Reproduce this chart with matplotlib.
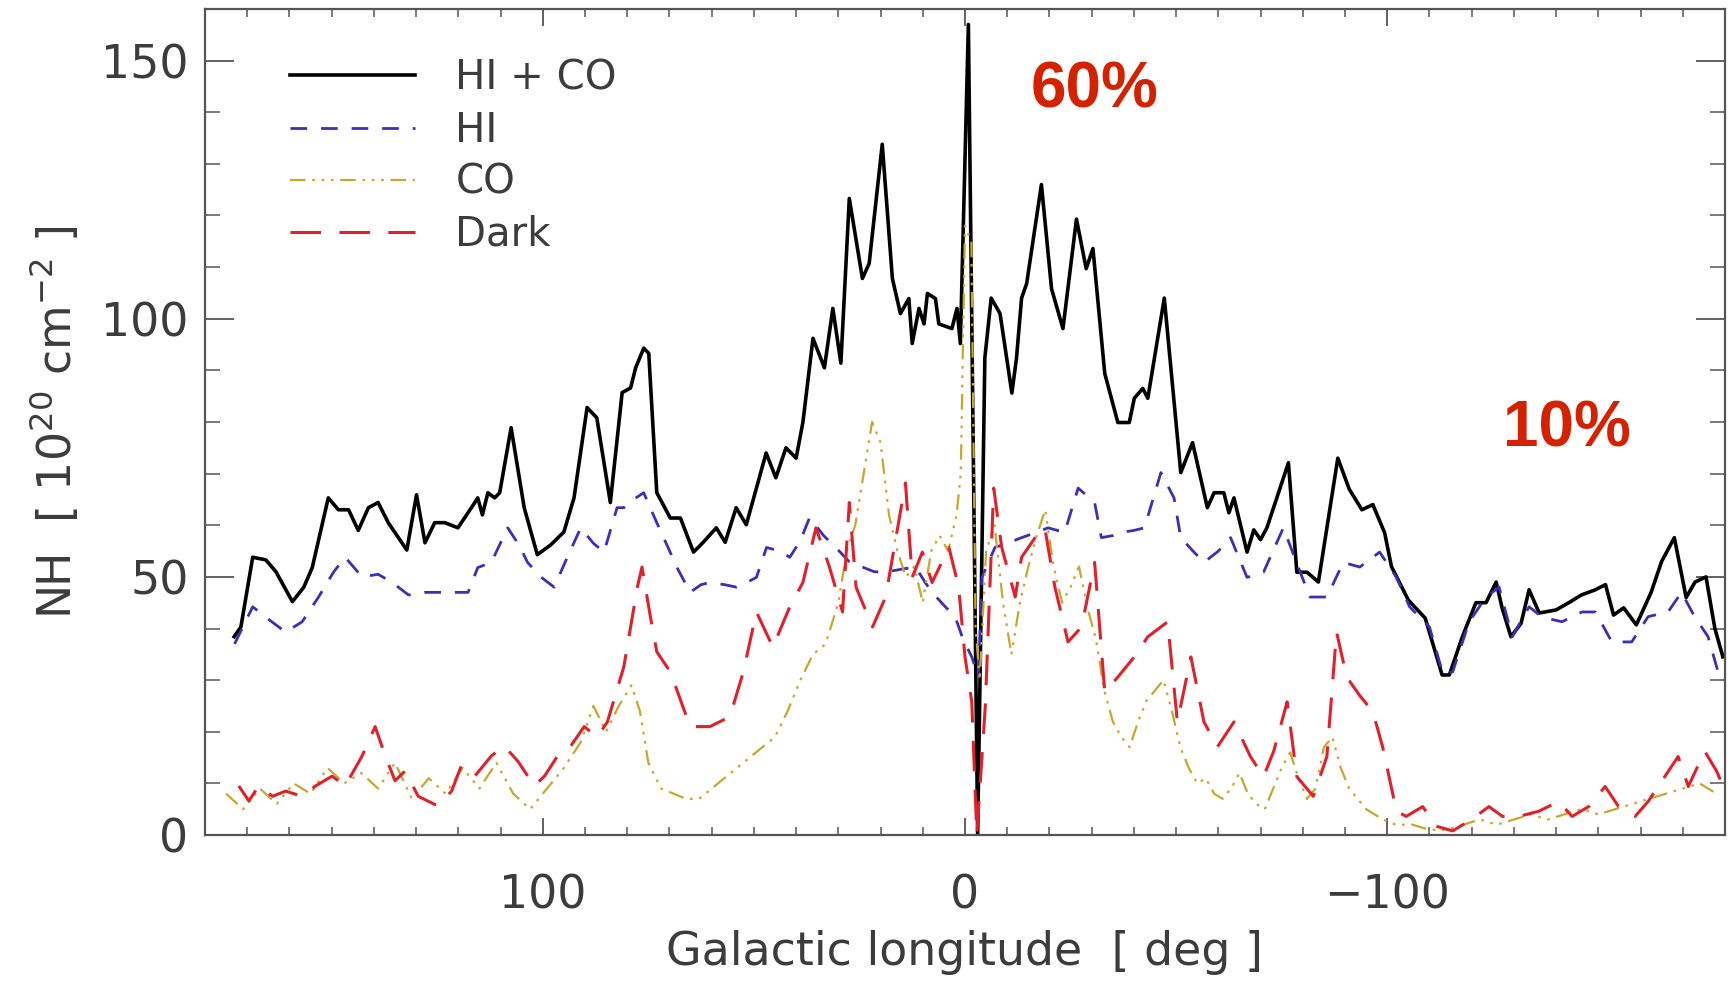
import matplotlib
matplotlib.use("Agg")
import matplotlib.pyplot as plt
from matplotlib.ticker import MultipleLocator

plt.rcParams['font.family'] = ['DejaVu Sans']
plt.rcParams['mathtext.fontset'] = 'dejavusans'

# Column density profiles along the galactic plane (NH in 1e20 cm^-2)
lon_total = [173.1, 171.5, 168.7, 165.6, 163.2, 159.3, 156.6, 154.6, 150.8, 148.4,
             146.0, 143.7, 141.3, 139.0, 136.6, 132.2, 129.9, 127.9, 125.6, 123.2,
             120.1, 116.9, 115.4, 114.3, 113.0, 111.4, 110.2, 107.5, 104.4, 101.3,
             98.1, 95.0, 92.6, 89.5, 87.2, 84.0, 81.2, 79.2, 78.0, 76.1,
             74.9, 73.0, 69.8, 67.4, 64.3, 62.0, 58.9, 56.8, 54.2, 51.8,
             47.1, 44.8, 42.4, 40.0, 38.4, 36.0, 33.3, 31.3, 29.4, 27.4,
             24.3, 22.7, 19.6, 17.2, 15.3, 13.3, 12.5, 10.9, 9.7, 8.9,
             7.0, 6.2, 3.1, 1.9, 1.1, -0.8, -3.0, -4.7, -6.2, -8.3,
             -11.1, -12.2, -13.4, -14.6, -18.1, -20.5, -23.2, -26.4, -28.7, -30.3,
             -33.1, -36.2, -38.9, -40.1, -42.1, -43.3, -47.2, -51.1, -53.9, -57.4,
             -59.0, -61.3, -62.5, -63.7, -66.8, -68.4, -70.0, -71.5, -76.6, -78.6,
             -81.0, -83.7, -88.3, -91.0, -94.0, -96.6, -99.4, -101.0, -105.0, -109.0,
             -113.0, -114.7, -117.8, -121.0, -123.4, -125.8, -127.2, -129.3, -131.7, -133.6,
             -136.0, -140.0, -143.0, -146.0, -149.3, -151.7, -153.6, -156.0, -159.0, -162.5,
             -165.0, -168.0, -170.8, -172.9, -175.5, -177.6, -179.5]
nh_total = [38.4, 40.3, 53.8, 53.3, 51.0, 45.2, 48.0, 51.8, 65.3, 63.0,
            63.0, 59.0, 63.4, 64.4, 60.5, 55.2, 65.9, 56.6, 60.5, 60.5,
            59.5, 63.4, 65.3, 62.0, 66.3, 65.3, 66.3, 78.9, 63.4, 54.3,
            56.2, 58.7, 65.3, 82.8, 80.8, 64.4, 85.7, 86.6, 90.5, 94.3,
            93.3, 66.3, 61.4, 61.4, 54.8, 56.7, 59.5, 56.7, 63.4, 60.1,
            74.0, 69.2, 75.0, 73.0, 79.9, 96.2, 90.5, 102.0, 91.4, 123.3,
            107.8, 110.7, 133.8, 107.8, 101.0, 103.9, 95.2, 102.0, 99.0, 104.9,
            103.9, 99.0, 98.1, 102.0, 95.2, 157.0, 0.0, 92.4, 104.0, 101.0,
            85.6, 92.4, 104.0, 106.8, 126.0, 105.8, 98.1, 119.3, 109.7, 113.6,
            89.4, 79.9, 79.9, 84.6, 86.5, 84.6, 104.0, 70.2, 76.0, 63.4,
            66.3, 66.3, 62.4, 65.3, 54.8, 59.1, 57.2, 59.5, 72.1, 50.9,
            50.9, 49.0, 73.0, 67.0, 63.0, 64.0, 58.5, 52.0, 45.5, 42.0,
            31.0, 31.0, 38.4, 45.0, 45.0, 49.0, 44.0, 38.4, 41.0, 47.5,
            43.0, 43.6, 45.0, 46.5, 47.5, 48.5, 42.6, 44.0, 40.7, 47.0,
            53.0, 57.6, 46.0, 49.0, 50.0, 40.0, 34.5]

lon_hi = [173.0, 168.7, 164.5, 160.9, 157.0, 153.1, 149.5, 146.8, 142.8, 139.0,
          135.8, 131.8, 128.0, 124.8, 121.0, 117.7, 115.4, 112.2, 108.3, 105.5,
          103.6, 100.5, 97.3, 94.2, 91.0, 88.0, 85.5, 82.4, 80.8, 78.5,
          76.1, 73.0, 70.5, 68.2, 65.1, 62.5, 60.4, 57.0, 54.1, 51.5,
          49.4, 47.0, 44.0, 41.5, 39.0, 36.8, 33.5, 30.6, 27.5, 24.3,
          21.5, 18.8, 15.0, 11.7, 9.5, 7.8, 5.0, 2.3, 0.5, -1.6,
          -3.2, -4.0, -7.1, -10.0, -13.4, -16.5, -19.7, -23.6, -26.8, -30.7,
          -32.3, -35.0, -37.0, -40.0, -42.5, -46.4, -49.5, -51.1, -54.0, -56.6,
          -60.0, -62.9, -66.8, -70.7, -75.4, -79.4, -81.7, -85.7, -89.6, -93.5,
          -98.2, -102.2, -105.3, -110.0, -113.2, -115.5, -119.4, -123.4, -126.5, -129.6,
          -133.6, -136.7, -141.4, -146.1, -149.3, -153.2, -157.9, -161.8, -166.5, -169.7,
          -172.8, -176.0, -178.7]
nh_hi = [37.0, 44.2, 41.5, 39.3, 41.3, 46.1, 51.0, 53.8, 50.0, 50.5,
         49.0, 46.5, 47.0, 47.0, 47.0, 47.0, 51.8, 52.8, 59.5, 56.0,
         52.8, 50.0, 48.0, 53.8, 59.5, 56.5, 54.8, 63.4, 63.4, 65.0,
         66.3, 60.5, 56.0, 51.8, 47.0, 48.5, 48.9, 48.5, 48.0, 49.0,
         49.9, 55.7, 55.0, 53.8, 57.0, 61.5, 58.0, 55.7, 53.0, 51.9,
         51.0, 50.9, 51.5, 51.9, 49.0, 47.0, 44.5, 42.2, 38.0, 34.5,
         30.6, 49.9, 55.7, 56.5, 57.6, 58.5, 59.5, 58.6, 67.2, 64.4,
         57.6, 58.0, 58.6, 59.0, 59.5, 70.2, 65.3, 57.6, 55.0, 52.8,
         55.0, 57.6, 49.9, 50.9, 59.5, 50.9, 46.1, 46.1, 52.8, 51.9,
         54.8, 49.9, 44.2, 40.3, 31.2, 31.6, 41.3, 46.1, 48.0, 38.4,
         44.2, 42.2, 41.3, 43.2, 43.2, 37.4, 37.4, 42.3, 43.2, 47.0,
         42.3, 38.4, 30.6]

lon_co = [175, 171, 167, 163, 159, 155, 151, 147, 143, 139,
          135, 131, 127, 123, 119, 115, 111, 107, 103, 99,
          95, 91, 88, 85, 82, 79, 77, 75, 72, 69,
          66, 63, 60, 57, 54, 51, 48, 45, 42, 39,
          36, 33, 30, 28, 26, 24, 22, 20, 18, 16,
          14, 12, 10, 8, 6, 4, 2, 1, 0, -1.5,
          -2.5, -3.5, -5, -7, -9, -11, -13, -15, -17, -19,
          -21, -23, -25, -27, -29, -31, -33, -35, -37, -39,
          -41, -43, -45, -47, -49, -51, -53, -55, -57, -59,
          -61, -63, -65, -67, -69, -71, -73, -75, -77, -79,
          -81, -83, -85, -87, -89, -91, -93, -95, -97, -99,
          -102, -106, -110, -114, -118, -122, -126, -130, -134, -138,
          -142, -146, -150, -154, -158, -162, -166, -170, -174, -178]
nh_co = [8, 5, 9, 6, 10, 8, 13, 10, 12, 9,
         14, 7, 11, 8, 13, 9, 14, 8, 5, 9,
         13, 18, 25, 20, 25, 29, 24, 14, 9, 8,
         7, 7, 9, 11, 13, 15, 17, 19, 24, 30,
         35, 37, 45, 55, 60, 70, 80, 76, 62, 55,
         50, 52, 45, 55, 58, 55, 62, 70, 118, 115,
         40, 30, 55, 60, 45, 35, 45, 52, 58, 63,
         52, 45, 48, 52, 44, 38, 28, 22, 19, 17,
         22, 26, 28, 30, 24, 17, 13, 10, 11, 8,
         7, 9, 12, 8, 6, 5, 9, 13, 16, 11,
         7, 9, 17, 19, 13, 9, 7, 5, 4, 3,
         2, 2, 1, 1, 2, 3, 2, 3, 4, 3,
         4, 5, 4, 5, 6, 7, 8, 9, 10, 8]

lon_dark = [172.0, 169.6, 167.3, 164.0, 160.9, 157.0, 153.8, 149.9, 146.8, 142.8,
            139.7, 137.3, 135.0, 132.6, 129.5, 124.8, 121.6, 119.3, 116.1, 112.2,
            109.1, 105.9, 102.0, 99.6, 96.5, 93.4, 90.2, 87.1, 84.7, 80.8,
            77.6, 76.5, 74.5, 73.0, 69.8, 65.1, 60.4, 55.7, 52.5, 49.4,
            45.5, 41.5, 38.4, 35.3, 32.1, 29.0, 27.4, 25.8, 21.9, 18.8,
            14.1, 12.5, 10.1, 7.8, 3.8, 1.5, 0.0, -1.6, -2.8, -4.8,
            -6.8, -8.7, -11.9, -13.4, -16.6, -18.9, -21.3, -24.4, -27.6, -30.7,
            -33.1, -36.2, -40.1, -43.3, -48.0, -50.3, -53.5, -56.6, -59.8, -63.7,
            -67.6, -70.7, -73.1, -76.3, -78.6, -82.5, -85.7, -88.0, -90.4, -93.5,
            -96.6, -98.9, -102.2, -104.5, -108.4, -111.6, -115.5, -119.4, -124.1, -127.3,
            -131.2, -135.9, -140.6, -143.8, -147.7, -151.6, -154.8, -158.7, -161.8, -165.0,
            -168.9, -171.3, -175.2, -178.0, -179.5]
nh_dark = [9.5, 6.6, 9.5, 7.5, 8.5, 7.5, 9.5, 11.4, 9.5, 15.3,
           21.0, 15.3, 10.5, 12.4, 7.5, 5.6, 8.5, 13.4, 11.4, 15.3,
           17.2, 14.3, 9.5, 11.4, 15.3, 17.2, 21.0, 19.0, 21.9, 32.6,
           48.0, 51.9, 42.2, 35.5, 31.6, 21.0, 21.0, 22.9, 31.6, 43.2,
           36.4, 44.2, 48.9, 59.5, 51.9, 43.2, 64.4, 48.0, 40.3, 46.1,
           68.2, 49.9, 54.8, 48.9, 55.7, 48.0, 34.5, 25.8, 0.0, 24.9,
           67.2, 55.7, 46.1, 53.8, 57.6, 59.5, 48.0, 37.4, 40.3, 52.8,
           27.7, 30.6, 34.5, 38.4, 41.3, 21.9, 34.5, 21.9, 17.1, 21.9,
           15.2, 11.3, 16.2, 25.8, 11.3, 7.5, 15.2, 39.3, 30.6, 27.0,
           23.9, 17.1, 4.6, 3.6, 5.5, 1.7, 0.8, 2.7, 5.5, 3.6,
           3.6, 4.6, 6.5, 3.6, 5.5, 9.4, 5.5, 3.6, 6.5, 10.4,
           15.2, 9.4, 16.2, 12.4, 9.5]

axis_grey = '#555555'
text_grey = '#3c3c3c'

fig = plt.figure(figsize=(17.36, 9.84), dpi=100)
ax = fig.add_axes([205 / 1736, 1 - 835 / 984, 1520 / 1736, 826 / 984])

ax.plot(lon_total, nh_total, color='black', lw=2.6, label='HI + CO')
ax.plot(lon_hi, nh_hi, color='#3a2fb8', lw=2.0, dashes=(6, 5), label='HI')
ax.plot(lon_co, nh_co, color='#c9a62c', lw=1.6,
        dashes=(7, 3, 1.2, 3, 1.2, 3, 1.2, 3), label='CO')
ax.plot(lon_dark, nh_dark, color='#e0202a', lw=2.2, dashes=(10, 6), label='Dark')

ax.set_xlim(180, -180)
ax.set_ylim(0, 160)

ax.xaxis.set_major_locator(MultipleLocator(100))
ax.xaxis.set_minor_locator(MultipleLocator(10))
ax.yaxis.set_major_locator(MultipleLocator(50))
ax.yaxis.set_minor_locator(MultipleLocator(10))

ax.tick_params(axis='x', which='both', direction='in', top=True, bottom=True,
               color=axis_grey, labelcolor=text_grey, labelsize=33, pad=28)
ax.tick_params(axis='x', which='major', length=12, width=1.3)
ax.tick_params(axis='x', which='minor', length=6, width=1.1)
ax.tick_params(axis='y', which='both', direction='in', left=True, right=True,
               color=axis_grey, labelcolor=text_grey, labelsize=33, pad=12)
ax.tick_params(axis='y', which='major', length=21, width=1.3)
ax.tick_params(axis='y', which='minor', length=11, width=1.1)

for sp in ax.spines.values():
    sp.set_color(axis_grey)
    sp.set_linewidth(1.6)

ax.set_xlabel('Galactic longitude  [ deg ]', fontsize=33, color=text_grey, labelpad=8)
ax.set_ylabel('NH  [ 10$^{20}$ cm$^{-2}$ ]', fontsize=33, color=text_grey, labelpad=14)

leg = ax.legend(loc='upper left', bbox_to_anchor=(0.056, 0.94), frameon=False,
                fontsize=29, handlelength=3.1, handletextpad=1.0,
                labelspacing=0.3, borderpad=0, borderaxespad=0)
for t in leg.get_texts():
    t.set_color(text_grey)

ax.text(-30.6, 144.2, '60%', color='#d42200', fontsize=46, fontweight='bold',
        family='Liberation Sans', ha='center', va='center')
ax.text(-142.5, 78.5, '10%', color='#d42200', fontsize=46, fontweight='bold',
        family='Liberation Sans', ha='center', va='center')

fig.savefig('out.png', dpi=100)
